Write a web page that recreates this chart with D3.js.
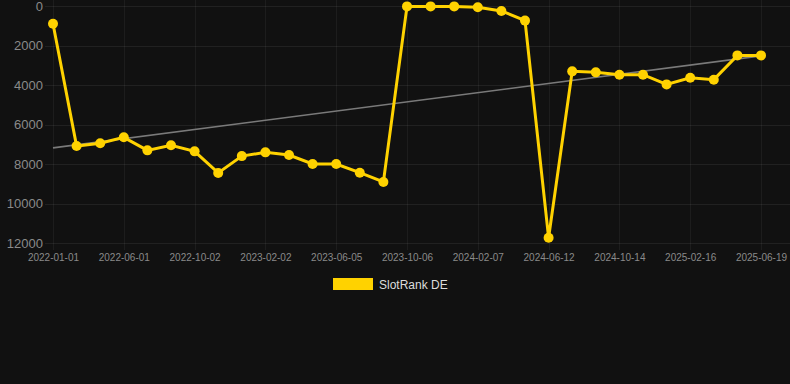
<!DOCTYPE html>
<html>
<head>
<meta charset="utf-8">
<script src="https://cdn.jsdelivr.net/npm/d3@7"></script>
<style>
  html, body { margin: 0; padding: 0; background: #111111; }
  svg { display: block; }
</style>
</head>
<body>
<svg id="chart" width="790" height="384"></svg>
<script>
const dates = ["2022-01-01","2022-02-20","2022-04-11","2022-06-01","2022-07-12","2022-08-22","2022-10-02","2022-11-12","2022-12-23","2023-02-02","2023-03-15","2023-04-25","2023-06-05","2023-07-16","2023-08-26","2023-10-06","2023-11-16","2023-12-27","2024-02-07","2024-03-19","2024-05-01","2024-06-12","2024-07-23","2024-09-02","2024-10-14","2024-11-24","2025-01-05","2025-02-16","2025-03-29","2025-05-09","2025-06-19"];
const ranks = [900,7090,6950,6650,7310,7055,7360,8450,7600,7410,7545,8000,8000,8440,8910,20,20,20,60,250,740,11730,3310,3360,3480,3480,3970,3630,3730,2500,2500];
const xTickLabels = ["2022-01-01","2022-06-01","2022-10-02","2023-02-02","2023-06-05","2023-10-06","2024-02-07","2024-06-12","2024-10-14","2025-02-16","2025-06-19"];
const yTicks = [0,2000,4000,6000,8000,10000,12000];
const seriesName = "SlotRank DE";

const svg = d3.select("#chart");
const W = 790;
const yellow = "#ffd200";

const x = d3.scalePoint().domain(dates).range([53, 761]);
const y = d3.scaleLinear().domain([0, 12000]).range([6, 243]);

// horizontal grid
svg.append("g").selectAll("line").data(yTicks).join("line")
  .attr("x1", 45).attr("x2", W)
  .attr("y1", d => Math.round(y(d)) + 0.5).attr("y2", d => Math.round(y(d)) + 0.5)
  .attr("stroke", "rgba(255,255,255,0.07)").attr("stroke-width", 1);

// vertical grid
svg.append("g").selectAll("line").data(xTickLabels).join("line")
  .attr("x1", d => Math.round(x(d)) + 0.5).attr("x2", d => Math.round(x(d)) + 0.5)
  .attr("y1", 0).attr("y2", 250)
  .attr("stroke", "rgba(255,255,255,0.05)").attr("stroke-width", 1);

// y axis labels
const yAxis = d3.axisLeft(y).tickValues(yTicks).tickSize(0).tickPadding(0).tickFormat(d => String(d));
const gy = svg.append("g").attr("transform", "translate(43,0)").call(yAxis);
gy.select(".domain").remove();
gy.selectAll("text").attr("fill", "#8a8a8a").style("font-family", "Liberation Sans, Arial, sans-serif").style("font-size", "13px");

// x axis labels
const xAxis = d3.axisBottom(x).tickValues(xTickLabels).tickSize(0).tickPadding(0);
const gx = svg.append("g").attr("transform", "translate(0,254)").call(xAxis);
gx.select(".domain").remove();
gx.selectAll("text").attr("fill", "#8a8a8a").style("font-family", "Liberation Sans, Arial, sans-serif").style("font-size", "10px");

// trend line (least squares)
const n = ranks.length;
const idx = d3.range(n);
const mx = d3.mean(idx), my = d3.mean(ranks);
const slope = d3.sum(idx, i => (i - mx) * (ranks[i] - my)) / d3.sum(idx, i => (i - mx) ** 2);
const icpt = my - slope * mx;
const trend = [0, n - 1].map(i => ({ d: dates[i], v: icpt + slope * i }));
svg.append("path")
  .attr("d", d3.line().x(p => x(p.d)).y(p => y(p.v))(trend))
  .attr("fill", "none").attr("stroke", "#7a7a7a").attr("stroke-width", 1.6);

// series line
svg.append("path")
  .attr("d", d3.line().x((v, i) => x(dates[i])).y(v => y(v))(ranks))
  .attr("fill", "none").attr("stroke", yellow).attr("stroke-width", 3)
  .attr("stroke-linejoin", "miter");

svg.append("g").selectAll("circle").data(ranks).join("circle")
  .attr("cx", (v, i) => x(dates[i])).attr("cy", v => y(v)).attr("r", 5)
  .attr("fill", yellow);

// legend
const lg = svg.append("g");
lg.append("rect").attr("x", 333).attr("y", 278).attr("width", 40).attr("height", 12).attr("fill", yellow);
lg.append("text").attr("x", 379).attr("y", 289).text(seriesName)
  .attr("fill", "#dddddd").style("font-family", "Liberation Sans, Arial, sans-serif").style("font-size", "12px");
</script>
</body>
</html>
